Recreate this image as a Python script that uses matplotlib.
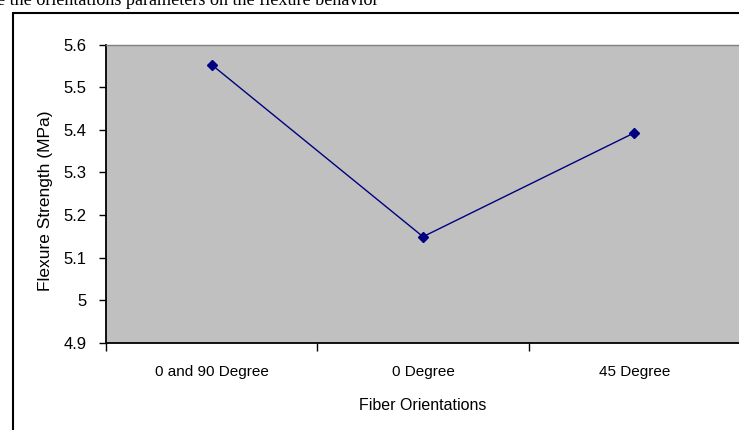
import matplotlib.pyplot as plt
from matplotlib.patches import Rectangle

# data
orientations = ['0 and 90 Degree', '0 Degree', '45 Degree']
flexure_strength = [5.553, 5.149, 5.393]
y_ticks = [4.9, 5.0, 5.1, 5.2, 5.3, 5.4, 5.5, 5.6]
y_tick_labels = ['4.9', '5', '5.1', '5.2', '5.3', '5.4', '5.5', '5.6']

W, H = 739, 430
plt.rcParams['font.family'] = ['Liberation Sans', 'DejaVu Sans']

fig = plt.figure(figsize=(W / 100, H / 100), dpi=100)

# caption line cut off at the top of the page
fig.text(-3 / W, 1 - 5 / H, 'e the orientations parameters on the flexure behavior',
         family='Liberation Serif', fontsize=13.1, ha='left', va='baseline')

# outer chart frame (runs past right and bottom edges)
frame = Rectangle((13 / W, -0.1), 1.2, 1 - 13 / H + 0.1, transform=fig.transFigure,
                  fill=False, edgecolor='black', linewidth=1.5, clip_on=False)
fig.patches.append(frame)

ax = fig.add_axes([106 / W, 1 - 342.7 / H, 634 / W, 298 / H])
ax.set_facecolor('#C0C0C0')

x = list(range(len(orientations)))
ax.plot(x, flexure_strength, color='#000080', linewidth=1, marker='D', markersize=5)

ax.set_xlim(-0.5, len(orientations) - 0.5)
ax.set_ylim(4.9, 5.6)
ax.set_yticks(y_ticks)
ax.set_yticklabels(y_tick_labels)
ax.tick_params(axis='y', direction='out', length=5, width=1, pad=9, labelsize=12)

ax.set_xticks(x)
ax.set_xticklabels(orientations)
ax.set_xticks([i - 0.5 for i in range(len(orientations) + 1)], minor=True)
ax.tick_params(axis='x', which='major', length=0, pad=16, labelsize=11)
ax.tick_params(axis='x', which='minor', direction='out', length=6, width=1)

ax.spines['left'].set_linewidth(1.3)
ax.spines['bottom'].set_linewidth(1.3)
ax.spines['top'].set_color('#808080')
ax.spines['top'].set_linewidth(1)
ax.spines['right'].set_visible(False)

ax.set_xlabel('Fiber Orientations', fontsize=11.5, labelpad=14)
ax.set_ylabel('Flexure Strength (MPa)', fontsize=12.5)
ax.yaxis.set_label_coords(-0.084, 0.475)

plt.savefig('out.png', dpi=100)
plt.close()
